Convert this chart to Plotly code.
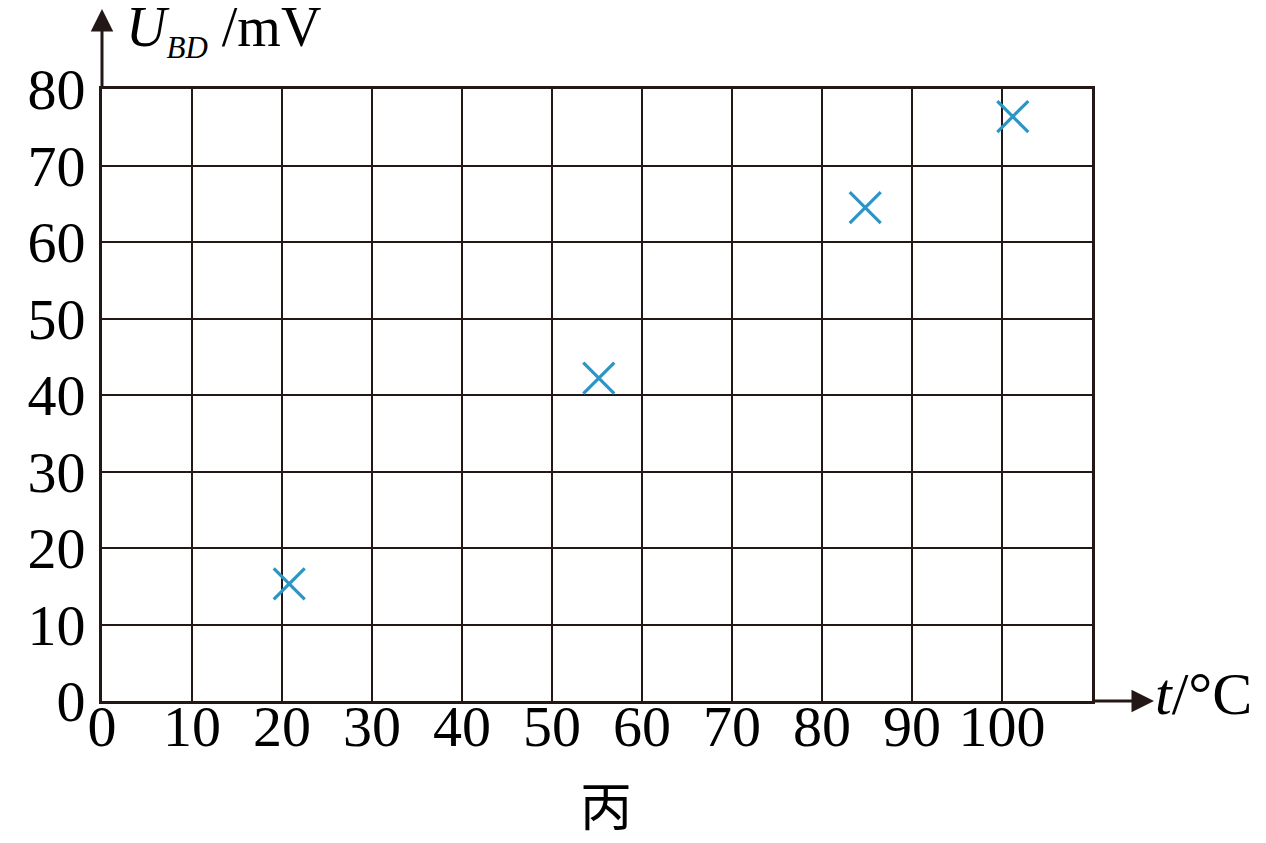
import plotly.graph_objects as go

# Data
t_values = [20.8, 55.2, 84.8, 101.2]      # t / °C
u_values = [15.3, 42.2, 64.5, 76.4]       # U_BD / mV

x_tick_vals = [0, 10, 20, 30, 40, 50, 60, 70, 80, 90, 100, 110]
x_tick_text = ["0", "10", "20", "30", "40", "50", "60", "70", "80", "90", "100", ""]
y_tick_vals = [0, 10, 20, 30, 40, 50, 60, 70, 80]
y_tick_text = ["0", "10", "20", "30", "40", "50", "60", "70", "80"]

INK = "#231815"
BLUE = "#2C95C6"
SERIF = "Liberation Serif, Times New Roman, serif"

fig = go.Figure()
fig.add_trace(go.Scatter(
    x=t_values, y=u_values, mode="markers",
    marker=dict(symbol="x-thin", size=31, line=dict(width=3.2, color=BLUE), color=BLUE),
    showlegend=False, hoverinfo="x+y", cliponaxis=False,
))

fig.update_layout(
    width=1250, height=827,
    margin=dict(l=94, r=166, t=81, b=134),
    paper_bgcolor="white", plot_bgcolor="white",
    xaxis=dict(
        range=[0, 110], tickmode="array", tickvals=x_tick_vals, ticktext=x_tick_text,
        showgrid=True, gridcolor=INK, gridwidth=2, zeroline=False,
        showline=True, linecolor=INK, linewidth=3, mirror=True,
        ticks="", tickfont=dict(family=SERIF, size=58, color="black"),
        ticklabelstandoff=-28, fixedrange=True,
    ),
    yaxis=dict(
        range=[0, 80], tickmode="array", tickvals=y_tick_vals, ticktext=y_tick_text,
        showgrid=True, gridcolor=INK, gridwidth=2, zeroline=False,
        showline=True, linecolor=INK, linewidth=3, mirror=True,
        ticks="", tickfont=dict(family=SERIF, size=58, color="black"),
        ticklabelstandoff=2, fixedrange=True,
    ),
)

# axis arrows
fig.add_annotation(xref="paper", yref="paper", x=1.0626, y=0, ax=-62, ay=0,
                   text="", showarrow=True, arrowhead=2, arrowsize=1.5,
                   arrowwidth=3, arrowcolor=INK, standoff=0)
fig.add_annotation(xref="paper", yref="paper", x=0, y=1.131, ax=0, ay=80,
                   text="", showarrow=True, arrowhead=2, arrowsize=1.5,
                   arrowwidth=3, arrowcolor=INK, standoff=0)

# axis titles
fig.add_annotation(xref="paper", yref="paper", x=0.022, y=1.095,
                   xanchor="left", yanchor="middle", showarrow=False,
                   text="<i>U</i><sub><span style=\"font-size:31px\"><i>BD</i></span></sub> /mV",
                   font=dict(family=SERIF, size=56, color="black"))
fig.add_annotation(xref="paper", yref="paper", x=1.062, y=0.012,
                   xanchor="left", yanchor="middle", showarrow=False,
                   text="<i>t</i>/°C",
                   font=dict(family=SERIF, size=60, color="black"))
fig.add_annotation(xref="paper", yref="paper", x=0.509, y=-0.167,
                   xanchor="center", yanchor="middle", showarrow=False,
                   text="丙",
                   font=dict(family="Noto Sans CJK SC", size=52, color="black"))

fig.write_html("out.html")
